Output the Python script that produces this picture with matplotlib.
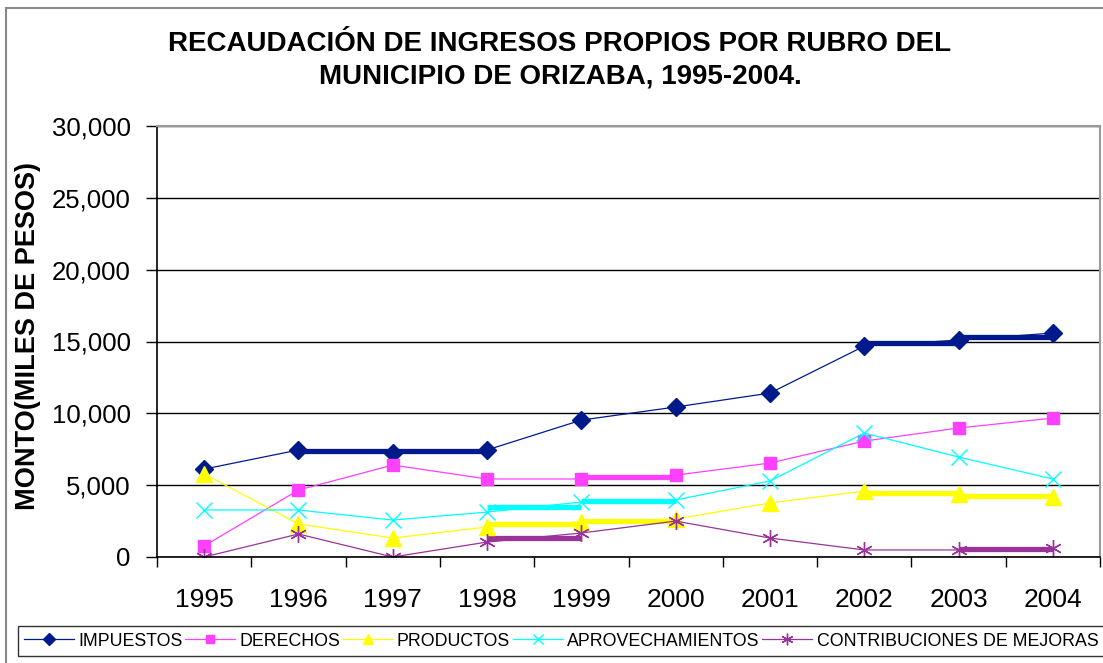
import matplotlib.pyplot as plt
import numpy as np
from matplotlib.lines import Line2D

years = ['1995', '1996', '1997', '1998', '1999', '2000', '2001', '2002', '2003', '2004']
impuestos = [6120, 7450, 7240, 7450, 9530, 10440, 11410, 14680, 15100, 15590]
derechos = [770, 4660, 6400, 5430, 5430, 5700, 6540, 8070, 8980, 9670]
productos = [5780, 2300, 1320, 2090, 2440, 2640, 3760, 4590, 4380, 4180]
aprovechamientos = [3270, 3270, 2570, 3130, 3830, 3970, 5290, 8630, 6960, 5430]
contribuciones = [0, 1600, 0, 1040, 1670, 2500, 1320, 490, 490, 630]
names = ['IMPUESTOS', 'DERECHOS', 'PRODUCTOS', 'APROVECHAMIENTOS', 'CONTRIBUCIONES DE MEJORAS']

# segments the old export drew heavy (start index of each)
heavy = [[1, 2, 7, 8], [4], [3, 4, 7, 8], [3, 4], [3, 8]]

plt.rcParams['font.family'] = ['Liberation Sans', 'DejaVu Sans']

W, H = 1103, 663
fig = plt.figure(figsize=(W / 100, H / 100), dpi=100)
ax = fig.add_axes([157 / W, 1 - 557 / H, (1100 - 157) / W, (557 - 126) / H])

series = [impuestos, derechos, productos, aprovechamientos, contribuciones]
colors = ['#001a8c', '#ff40ff', '#ffff00', '#00ffff', '#993399']
markers = ['D', 's', '^', 'x', (6, 2, 0)]
msizes = [9, 8, 11, 11, 12]

x = np.arange(len(years))
for vals, c, m, ms, name, hv in zip(series, colors, markers, msizes, names, heavy):
    ax.plot(x, vals, color=c, lw=0.9, marker=m, ms=ms, mec=c, mew=1.0,
            label=name, zorder=3)
    for i in hv:
        lvl = (vals[i] + vals[i + 1]) / 2
        ax.plot([x[i], x[i + 1]], [lvl, lvl], color=c, lw=3.8,
                solid_capstyle='butt', zorder=2.5)

ax.set_xlim(-0.5, 9.5)
ax.set_ylim(0, 30000)
ax.set_yticks(np.arange(0, 30001, 5000))
ax.set_yticklabels([f'{v:,}' for v in range(0, 30001, 5000)], fontsize=18.5)
ax.set_xticks(x)
ax.set_xticklabels(years, fontsize=19)
ax.set_xticks(np.arange(-0.5, 10, 1), minor=True)
ax.tick_params(axis='x', which='major', length=0, pad=22)
ax.tick_params(axis='x', which='minor', length=7, width=1, color='black')
ax.tick_params(axis='y', length=8, width=1, pad=11, color='black')
ax.grid(axis='y', color='black', lw=1)
ax.set_axisbelow(True)
for s in ['top', 'right']:
    ax.spines[s].set_color('#999999')
    ax.spines[s].set_linewidth(1.5)
for s in ['left', 'bottom']:
    ax.spines[s].set_color('black')
    ax.spines[s].set_linewidth(1.2)
ax.spines['bottom'].set_zorder(4)

fig.text(28 / W, 1 - 336 / H, 'MONTO(MILES DE PESOS)', rotation=90, fontsize=19.5,
         fontweight='bold', ha='center', va='center')
fig.text(560 / W, 1 - 60 / H,
         'RECAUDACIÓN DE INGRESOS PROPIOS POR RUBRO DEL\nMUNICIPIO DE ORIZABA, 1995-2004.',
         fontsize=20, fontweight='bold', ha='center', va='center', linespacing=1.32)

# outer chart frame
fig.add_artist(Line2D([6 / W, 6 / W], [0, 1 - 8 / H], color='#888888', lw=1.5))
fig.add_artist(Line2D([6 / W, 1], [1 - 8 / H, 1 - 8 / H], color='#888888', lw=1.5))

leg = fig.legend(loc='center', bbox_to_anchor=(561 / W, 1 - 641 / H), ncol=5,
                 fontsize=12.8, frameon=True, fancybox=False, edgecolor='black',
                 handlelength=2.8, handletextpad=0.25, columnspacing=0.15,
                 borderpad=0.35, markerscale=0.7)
leg.get_frame().set_linewidth(1.0)

fig.savefig('out.png', dpi=100)
